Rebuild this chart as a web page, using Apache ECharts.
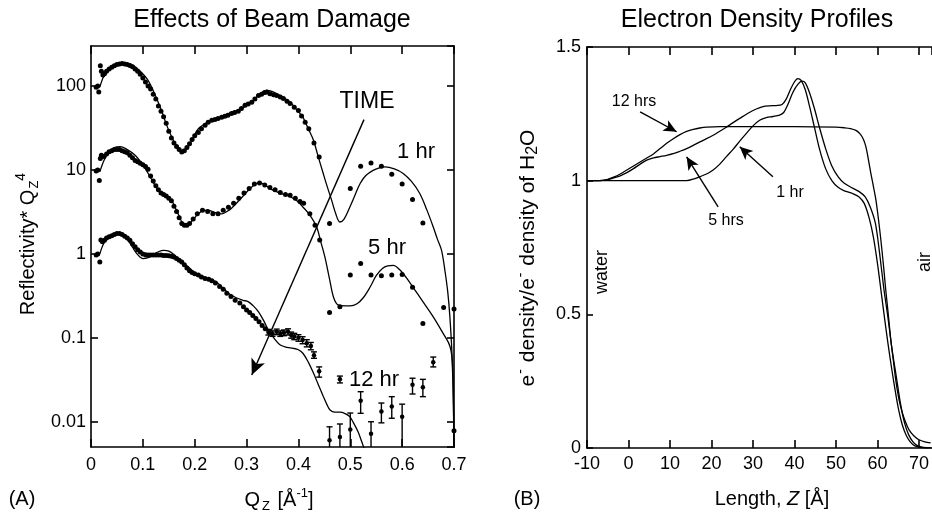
<!DOCTYPE html>
<html>
<head>
<meta charset="utf-8">
<script src="https://cdn.jsdelivr.net/npm/echarts@6/dist/echarts.min.js"></script>
<style>
html,body{margin:0;padding:0;background:#fff;}
#chart{width:932px;height:513px;}
</style>
</head>
<body>
<div id="chart"></div>
<script>
// ---------------- Panel A: reflectivity * Qz^4 (log scale) ----------------
const qTicks = [0, 0.1, 0.2, 0.3, 0.4, 0.5, 0.6, 0.7];

// fitted curves [Qz, R*Qz^4]
const fit1hr = [[0.017,97],[0.027,140],[0.04,168],[0.055,182],[0.069,185],[0.08,178],[0.095,150],[0.11,117],[0.123,80],[0.136,51],[0.146,34],[0.156,24.5],[0.165,19],[0.175,16.4],[0.185,18],[0.195,23],[0.207,31],[0.225,37],[0.245,41],[0.265,47],[0.291,54],[0.31,65],[0.325,80],[0.339,89],[0.35,86],[0.365,77],[0.384,64],[0.397,52],[0.409,42],[0.419,31],[0.429,22.6],[0.438,14.5],[0.448,9],[0.456,6.2],[0.464,4.37],[0.472,3.0],[0.48,2.4],[0.488,2.6],[0.499,3.6],[0.509,5.0],[0.519,6.9],[0.53,8.6],[0.544,9.9],[0.556,10.6],[0.567,10.9],[0.585,10.3],[0.602,9.1],[0.618,7.3],[0.634,5.25],[0.648,3.3],[0.66,2.09],[0.668,1.5],[0.676,1.1],[0.683,0.6],[0.688,0.35],[0.692,0.18],[0.696,0.066],[0.699,0.015],[0.7,0.003]];
const fit5hr = [[0.017,9.5],[0.025,13],[0.035,16.5],[0.045,18.5],[0.056,19],[0.07,17.5],[0.085,15],[0.1,11.5],[0.114,8.3],[0.13,5.7],[0.143,5.0],[0.155,4.37],[0.168,3.0],[0.181,2.2],[0.19,2.3],[0.2,2.7],[0.207,3.0],[0.217,3.3],[0.226,3.3],[0.24,3.1],[0.252,3.0],[0.262,3.2],[0.271,3.5],[0.288,4.5],[0.303,5.7],[0.313,6.5],[0.323,7.0],[0.333,6.8],[0.345,6.0],[0.365,5.3],[0.384,4.8],[0.397,4.3],[0.409,3.6],[0.422,2.9],[0.435,2.1],[0.443,1.4],[0.451,0.92],[0.46,0.5],[0.468,0.3],[0.477,0.245],[0.49,0.24],[0.5,0.24],[0.513,0.255],[0.525,0.3],[0.538,0.40],[0.55,0.55],[0.562,0.67],[0.572,0.72],[0.583,0.73],[0.595,0.65],[0.608,0.52],[0.621,0.40],[0.64,0.27],[0.66,0.178],[0.679,0.113],[0.692,0.08],[0.697,0.05],[0.699,0.015],[0.7,0.003]];
const fit12hr = [[0.017,1.0],[0.025,1.35],[0.035,1.6],[0.045,1.75],[0.053,1.78],[0.06,1.7],[0.07,1.5],[0.08,1.2],[0.09,0.98],[0.1,0.88],[0.11,0.9],[0.12,0.98],[0.13,1.06],[0.14,1.1],[0.15,1.08],[0.16,0.98],[0.168,0.88],[0.18,0.76],[0.19,0.68],[0.202,0.585],[0.22,0.52],[0.241,0.465],[0.255,0.39],[0.265,0.34],[0.28,0.3],[0.293,0.28],[0.303,0.27],[0.313,0.24],[0.323,0.204],[0.333,0.16],[0.342,0.124],[0.355,0.095],[0.365,0.082],[0.378,0.077],[0.39,0.075],[0.4,0.072],[0.409,0.065],[0.42,0.05],[0.429,0.038],[0.438,0.028],[0.448,0.02],[0.455,0.016],[0.461,0.0138],[0.47,0.013],[0.48,0.013],[0.49,0.0125],[0.499,0.0115],[0.507,0.0095],[0.515,0.0076],[0.522,0.0058],[0.53,0.0042]];

// measured points [Qz, R*Qz^4]
const data1hr = [[0.010,97],[0.013,100],[0.015,85],[0.018,175],[0.020,150],[0.023,135],[0.026,140],[0.030,150],[0.035,160],[0.040,168],[0.045,175],[0.050,180],[0.055,183],[0.060,185],[0.065,183],[0.070,180],[0.075,176],[0.080,170],[0.085,160],[0.090,150],[0.095,138],[0.100,125],[0.105,112],[0.110,100],[0.115,92],[0.120,80],[0.125,70],[0.130,58],[0.135,50],[0.140,43],[0.145,36],[0.150,29],[0.155,24],[0.160,21],[0.165,19],[0.170,17.5],[0.175,16.4],[0.180,17],[0.185,18.5],[0.190,20.5],[0.195,23],[0.200,25.5],[0.207,28],[0.213,31],[0.220,34],[0.226,37],[0.233,39],[0.239,40],[0.245,41],[0.252,42.5],[0.258,43.6],[0.264,45],[0.271,47],[0.277,48.5],[0.284,50],[0.290,54],[0.297,59],[0.303,61],[0.310,64],[0.316,70],[0.323,77],[0.329,80],[0.335,84],[0.339,85],[0.345,81],[0.352,79],[0.358,77],[0.365,74],[0.371,71],[0.378,66],[0.384,62],[0.392,56],[0.400,51],[0.406,44],[0.413,37],[0.420,31],[0.430,21],[0.440,14.3],[0.460,2.3],[0.500,6.0],[0.520,11.1],[0.540,12.1],[0.560,11.1],[0.580,8.9],[0.600,6.8],[0.620,4.45],[0.640,2.34],[0.700,0.0078]];
const data5hr = [[0.010,9.7],[0.013,10],[0.016,7.5],[0.018,13.7],[0.020,15],[0.025,14.5],[0.030,15.5],[0.035,16.5],[0.040,17],[0.045,17.5],[0.050,17.5],[0.055,17.5],[0.060,17],[0.065,16.5],[0.070,16],[0.075,15],[0.080,14],[0.085,13],[0.090,12.5],[0.095,12],[0.100,11.5],[0.105,11],[0.110,10.2],[0.115,8.5],[0.120,7.4],[0.125,6.5],[0.130,5.8],[0.135,5.3],[0.140,5.1],[0.145,4.9],[0.150,4.6],[0.155,4.3],[0.160,3.7],[0.165,3.2],[0.170,2.7],[0.175,2.3],[0.180,2.2],[0.185,2.2],[0.190,2.3],[0.197,2.6],[0.205,3.0],[0.215,3.3],[0.225,3.2],[0.235,3.0],[0.245,3.0],[0.255,3.3],[0.265,3.6],[0.275,4.0],[0.285,4.6],[0.295,5.3],[0.305,6.0],[0.315,6.8],[0.325,7.0],[0.335,6.6],[0.345,6.2],[0.355,5.8],[0.365,5.4],[0.375,5.1],[0.384,5.0],[0.394,4.6],[0.403,4.2],[0.410,4.0],[0.422,3.0],[0.432,2.2],[0.441,1.46],[0.460,0.20],[0.480,0.235],[0.500,0.56],[0.520,0.77],[0.540,0.56],[0.560,0.55],[0.580,0.56],[0.600,0.57],[0.620,0.40],[0.640,0.148],[0.680,0.23],[0.700,0.22]];
const data12hr = [[0.010,0.97],[0.013,1.0],[0.017,0.8],[0.019,1.46],[0.022,1.4],[0.026,1.45],[0.030,1.55],[0.035,1.6],[0.040,1.65],[0.045,1.7],[0.050,1.75],[0.055,1.75],[0.060,1.7],[0.065,1.62],[0.070,1.55],[0.075,1.45],[0.080,1.32],[0.085,1.22],[0.090,1.12],[0.095,1.05],[0.100,1.0],[0.105,0.98],[0.110,0.97],[0.115,0.97],[0.120,0.97],[0.125,0.97],[0.130,0.97],[0.135,0.97],[0.140,0.96],[0.145,0.96],[0.150,0.95],[0.155,0.94],[0.160,0.92],[0.165,0.88],[0.170,0.84],[0.175,0.8],[0.180,0.74],[0.185,0.68],[0.190,0.63],[0.195,0.6],[0.200,0.58],[0.207,0.56],[0.213,0.53],[0.220,0.51],[0.227,0.5],[0.233,0.48],[0.240,0.45],[0.248,0.41],[0.255,0.38],[0.262,0.34],[0.270,0.31],[0.278,0.28],[0.287,0.26],[0.294,0.235],[0.300,0.215],[0.306,0.2],[0.312,0.185],[0.318,0.17],[0.324,0.155],[0.330,0.14],[0.336,0.128]];
// points with error bars [Qz, value, low, high]
const data12hrErr = [[0.342,0.117,0.108,0.126],[0.350,0.112,0.104,0.121],[0.358,0.118,0.109,0.127],[0.365,0.112,0.104,0.121],[0.372,0.115,0.106,0.124],[0.380,0.118,0.108,0.128],[0.386,0.108,0.099,0.117],[0.392,0.104,0.095,0.113],[0.400,0.100,0.091,0.109],[0.408,0.094,0.085,0.103],[0.416,0.086,0.078,0.095],[0.424,0.080,0.072,0.088],[0.430,0.062,0.057,0.068],[0.440,0.040,0.034,0.045],[0.460,0.006,0.003,0.0087],[0.480,0.032,0.029,0.035],[0.480,0.0066,0.003,0.0094],[0.500,0.0081,0.003,0.0127],[0.520,0.0178,0.0126,0.0228],[0.540,0.0072,0.003,0.010],[0.560,0.0132,0.0097,0.0167],[0.580,0.0152,0.011,0.0199],[0.600,0.0115,0.003,0.0162],[0.620,0.0275,0.0214,0.033],[0.640,0.0258,0.0199,0.032],[0.660,0.051,0.045,0.059]];
// "TIME" arrow, from / to [Qz, value]
const timeArrow = [[0.5264, 39.8], [0.31, 0.036]];

// ---------------- Panel B: electron density profiles ----------------
const zTicks = [-10, 0, 10, 20, 30, 40, 50, 60, 70];
const profile1hr = [[-10,1],[0,1],[10,1],[14,1.0],[16,1.008],[17.2,1.015],[18.8,1.025],[20.4,1.04],[22,1.062],[23.6,1.09],[25.2,1.117],[26.8,1.148],[28.4,1.177],[30,1.205],[31.6,1.226],[33.2,1.236],[34.8,1.24],[36.4,1.245],[37.4,1.255],[38.4,1.285],[39.6,1.33],[40.8,1.36],[41.8,1.372],[42.6,1.366],[43.6,1.33],[44.8,1.27],[46,1.2],[47.5,1.12],[49,1.055],[50.5,1.015],[52,0.99],[54,0.972],[55.5,0.96],[57,0.94],[58.3,0.9],[59.5,0.84],[60.5,0.73],[61.5,0.6],[62.5,0.49],[63.5,0.37],[64.5,0.27],[65.5,0.17],[66.5,0.095],[67.5,0.05],[68.5,0.024],[69.5,0.01],[71,0.002],[73,0]];
const profile5hr = [[-10,1],[-7,1],[-5,1.004],[-3.6,1.01],[-2,1.018],[-0.4,1.03],[1.2,1.045],[2.8,1.062],[4.4,1.077],[6,1.085],[7.6,1.09],[9.2,1.095],[10.8,1.101],[12.4,1.11],[14,1.12],[15.6,1.132],[17.2,1.145],[18.8,1.157],[20.4,1.17],[22,1.185],[23.6,1.2],[25.2,1.217],[26.8,1.233],[28.8,1.252],[30.8,1.268],[32.4,1.277],[34,1.28],[35.6,1.281],[37,1.285],[38,1.305],[39,1.34],[40,1.37],[40.8,1.382],[41.6,1.375],[42.6,1.34],[43.6,1.28],[44.8,1.2],[46,1.12],[47.5,1.045],[49,1.0],[50.5,0.975],[52,0.962],[54,0.952],[55.5,0.94],[56.8,0.915],[58,0.86],[59,0.79],[60,0.69],[61,0.57],[62,0.45],[63,0.34],[64,0.24],[65,0.15],[66,0.085],[67,0.045],[68,0.021],[69,0.008],[70.5,0.002],[72,0]];
const profile12hr = [[-10,1],[-7,1],[-5,1.005],[-3.6,1.013],[-2,1.025],[-0.4,1.04],[1.2,1.055],[2.8,1.07],[4.4,1.085],[6,1.1],[7.6,1.12],[9.2,1.14],[10.8,1.157],[12.4,1.172],[14,1.184],[15.6,1.192],[17.2,1.197],[18.8,1.2],[22,1.202],[30,1.202],[40,1.202],[50,1.2],[52,1.198],[53.5,1.195],[54.8,1.188],[55.8,1.175],[56.6,1.155],[57.2,1.127],[57.8,1.08],[58.4,1.027],[59,0.98],[59.6,0.93],[60.2,0.86],[60.8,0.78],[61.4,0.69],[62,0.59],[62.6,0.5],[63.2,0.405],[63.8,0.33],[64.4,0.255],[65.2,0.18],[66,0.131],[66.8,0.095],[67.6,0.068],[68.8,0.045],[70,0.031],[71.4,0.023],[72.8,0.019]];
// annotation arrows [Z, density] from / to
const arrow12hrs = [[2.8, 1.257], [11.6, 1.183]];
const arrow5hrs = [[21.6, 0.902], [14.0, 1.089]];
const arrow1hr = [[34.8, 1.015], [26.8, 1.127]];

const FONT = '"Liberation Sans", Arial, Helvetica, sans-serif';
const BLACK = '#000';

const chart = echarts.init(document.getElementById('chart'), null, {renderer: 'canvas'});

function arrowLine(pair, size) {
  return {
    silent: true,
    symbol: ['none', 'arrow'],
    symbolSize: size,
    lineStyle: {color: BLACK, width: 1.4, type: 'solid'},
    itemStyle: {color: BLACK},
    label: {show: false},
    animation: false,
    data: [[{coord: pair[0]}, {coord: pair[1]}]]
  };
}

const axisLineStyle = {show: true, onZero: false, lineStyle: {color: BLACK, width: 1.6}};
const tickIn = (len) => ({show: true, inside: true, length: len, lineStyle: {color: BLACK, width: 1.6}});
const labelStyle = {color: BLACK, fontFamily: FONT, fontSize: 18};
const dotStyle = {color: BLACK, opacity: 1};

const option = {
  animation: false,
  backgroundColor: '#fff',
  grid: [
    {left: 91, top: 46, width: 363, height: 401, show: false},
    {left: 587, top: 47, width: 345, height: 401, show: false}
  ],
  xAxis: [
    {gridIndex: 0, type: 'value', min: qTicks[0], max: qTicks[qTicks.length - 1], interval: 0.1, position: 'bottom',
      axisLine: axisLineStyle, axisTick: tickIn(8), splitLine: {show: false},
      axisLabel: Object.assign({margin: 9}, labelStyle)},
    {gridIndex: 0, type: 'value', min: qTicks[0], max: qTicks[qTicks.length - 1], interval: 0.1, position: 'top',
      axisLine: axisLineStyle, axisTick: tickIn(8), splitLine: {show: false}, axisLabel: {show: false}},
    {gridIndex: 1, type: 'value', min: zTicks[0], max: 73, interval: 10, position: 'bottom',
      axisLine: axisLineStyle, axisTick: tickIn(8), splitLine: {show: false},
      axisLabel: Object.assign({margin: 7, showMaxLabel: false}, labelStyle)},
    {gridIndex: 1, type: 'value', min: zTicks[0], max: 73, interval: 10, position: 'top',
      axisLine: axisLineStyle, axisTick: tickIn(8), splitLine: {show: false}, axisLabel: {show: false}}
  ],
  yAxis: [
    {gridIndex: 0, type: 'log', logBase: 10, min: 0.005, max: 300, position: 'left',
      axisLine: axisLineStyle, axisTick: tickIn(7), splitLine: {show: false}, minorTick: {show: false},
      axisLabel: Object.assign({margin: 5, showMinLabel: false, showMaxLabel: false}, labelStyle)},
    {gridIndex: 0, type: 'log', logBase: 10, min: 0.005, max: 300, position: 'right',
      axisLine: axisLineStyle, axisTick: tickIn(7), splitLine: {show: false}, axisLabel: {show: false}},
    {gridIndex: 1, type: 'value', min: 0, max: 1.5, interval: 0.5, position: 'left',
      axisLine: axisLineStyle, axisTick: tickIn(6), splitLine: {show: false},
      axisLabel: Object.assign({margin: 6}, labelStyle)}
  ],
  series: [
    // Panel A fits
    {type: 'line', xAxisIndex: 0, yAxisIndex: 0, data: fit1hr, showSymbol: false, smooth: 0.35,
      lineStyle: {color: BLACK, width: 1.3}, clip: true},
    {type: 'line', xAxisIndex: 0, yAxisIndex: 0, data: fit5hr, showSymbol: false, smooth: 0.35,
      lineStyle: {color: BLACK, width: 1.3}, clip: true},
    {type: 'line', xAxisIndex: 0, yAxisIndex: 0, data: fit12hr, showSymbol: false, smooth: 0.35,
      lineStyle: {color: BLACK, width: 1.3}, clip: true},
    // Panel A data
    {type: 'scatter', xAxisIndex: 0, yAxisIndex: 0, data: data1hr, symbol: 'circle', symbolSize: 5,
      itemStyle: dotStyle, clip: true},
    {type: 'scatter', xAxisIndex: 0, yAxisIndex: 0, data: data5hr, symbol: 'circle', symbolSize: 5,
      itemStyle: dotStyle, clip: true},
    {type: 'scatter', xAxisIndex: 0, yAxisIndex: 0, data: data12hr, symbol: 'circle', symbolSize: 5,
      itemStyle: dotStyle, clip: true, markLine: arrowLine(timeArrow, [11, 16])},
    {type: 'scatter', xAxisIndex: 0, yAxisIndex: 0, data: data12hrErr.map(d => [d[0], d[1]]), symbol: 'circle', symbolSize: 4.5,
      itemStyle: dotStyle, clip: true},
    {type: 'custom', xAxisIndex: 0, yAxisIndex: 0, data: data12hrErr.map(d => [d[0], d[2], d[3]]),
      encode: {x: 0, y: [1, 2]}, clip: true,
      renderItem: function (params, api) {
        const x = api.value(0);
        const top = api.coord([x, api.value(2)]);
        const bot = api.coord([x, api.value(1)]);
        const yMax = params.coordSys.y + params.coordSys.height;
        let cut = false;
        if (bot[1] > yMax) { bot[1] = yMax; cut = true; }
        const w = 3;
        const st = {stroke: BLACK, lineWidth: 1.4};
        const ch = [
          {type: 'line', shape: {x1: top[0], y1: top[1], x2: bot[0], y2: bot[1]}, style: st},
          {type: 'line', shape: {x1: top[0] - w, y1: top[1], x2: top[0] + w, y2: top[1]}, style: st}
        ];
        if (!cut) ch.push({type: 'line', shape: {x1: bot[0] - w, y1: bot[1], x2: bot[0] + w, y2: bot[1]}, style: st});
        return {type: 'group', children: ch};
      }},
    // Panel B profiles
    {type: 'line', xAxisIndex: 2, yAxisIndex: 2, data: profile1hr, showSymbol: false, smooth: 0.3,
      lineStyle: {color: BLACK, width: 1.3}, markLine: arrowLine(arrow1hr, [9, 13])},
    {type: 'line', xAxisIndex: 2, yAxisIndex: 2, data: profile5hr, showSymbol: false, smooth: 0.3,
      lineStyle: {color: BLACK, width: 1.3}, markLine: arrowLine(arrow5hrs, [9, 13])},
    {type: 'line', xAxisIndex: 2, yAxisIndex: 2, data: profile12hr, showSymbol: false, smooth: 0.3,
      lineStyle: {color: BLACK, width: 1.3}, markLine: arrowLine(arrow12hrs, [9, 13])}
  ],
  graphic: [
    {type: 'text', x: 272, y: 20, style: {text: 'Effects of Beam Damage', font: '25px ' + FONT, fill: BLACK, align: 'center', verticalAlign: 'middle'}},
    {type: 'text', x: 757, y: 20, style: {text: 'Electron Density Profiles', font: '25px ' + FONT, fill: BLACK, align: 'center', verticalAlign: 'middle'}},
    {type: 'text', x: 28, y: 244, rotation: Math.PI / 2,
      style: {text: 'Reflectivity* Q{sub|Z}{sup|4}', font: '20px ' + FONT, fill: BLACK, align: 'center', verticalAlign: 'middle',
        rich: {sub: {fontSize: 13, fontFamily: FONT, padding: [12, 0, 0, 1]}, sup: {fontSize: 14, fontFamily: FONT, padding: [0, 0, 14, 0]}}}},
    {type: 'text', x: 279, y: 500,
      style: {text: 'Q{sub|Z} [Å{sup|-1}]', font: '20px ' + FONT, fill: BLACK, align: 'center', verticalAlign: 'middle',
        rich: {sub: {fontSize: 13, fontFamily: FONT, padding: [12, 2, 0, 2]}, sup: {fontSize: 13, fontFamily: FONT, padding: [0, 0, 14, 0]}}}},
    {type: 'text', x: 22, y: 499, style: {text: '(A)', font: '20px ' + FONT, fill: BLACK, align: 'center', verticalAlign: 'middle'}},
    {type: 'text', x: 527, y: 499, style: {text: '(B)', font: '20px ' + FONT, fill: BLACK, align: 'center', verticalAlign: 'middle'}},
    {type: 'text', x: 772, y: 499,
      style: {text: 'Length, {i|Z} [Å]', font: '20px ' + FONT, fill: BLACK, align: 'center', verticalAlign: 'middle',
        rich: {i: {fontSize: 20, fontFamily: FONT, fontStyle: 'italic'}}}},
    {type: 'text', x: 528, y: 258, rotation: Math.PI / 2,
      style: {text: 'e{sup|-} density/e{sup|-} density of H{sub|2}O', font: '21px ' + FONT, fill: BLACK, align: 'center', verticalAlign: 'middle',
        rich: {sub: {fontSize: 16, fontFamily: FONT, padding: [10, 0, 0, 0]}, sup: {fontSize: 14, fontFamily: FONT, padding: [0, 1, 14, 1]}}}},
    // panel A annotations
    {type: 'text', x: 367, y: 102, style: {text: 'TIME', font: '23px ' + FONT, fill: BLACK, align: 'center', verticalAlign: 'middle'}},
    {type: 'text', x: 416, y: 152, style: {text: '1 hr', font: '22px ' + FONT, fill: BLACK, align: 'center', verticalAlign: 'middle'}},
    {type: 'text', x: 387, y: 248, style: {text: '5 hr', font: '22px ' + FONT, fill: BLACK, align: 'center', verticalAlign: 'middle'}},
    {type: 'text', x: 374, y: 380, style: {text: '12 hr', font: '22px ' + FONT, fill: BLACK, align: 'center', verticalAlign: 'middle'}},
    // panel B annotations
    {type: 'text', x: 634, y: 102, style: {text: '12 hrs', font: '16px ' + FONT, fill: BLACK, align: 'center', verticalAlign: 'middle'}},
    {type: 'text', x: 726, y: 221, style: {text: '5 hrs', font: '16px ' + FONT, fill: BLACK, align: 'center', verticalAlign: 'middle'}},
    {type: 'text', x: 790, y: 193, style: {text: '1 hr', font: '16px ' + FONT, fill: BLACK, align: 'center', verticalAlign: 'middle'}},
    {type: 'text', x: 602, y: 272, rotation: Math.PI / 2, style: {text: 'water', font: '18px ' + FONT, fill: BLACK, align: 'center', verticalAlign: 'middle'}},
    {type: 'text', x: 925, y: 262, rotation: Math.PI / 2, style: {text: 'air', font: '18px ' + FONT, fill: BLACK, align: 'center', verticalAlign: 'middle'}}
  ]
};

chart.setOption(option);
</script>
</body>
</html>
